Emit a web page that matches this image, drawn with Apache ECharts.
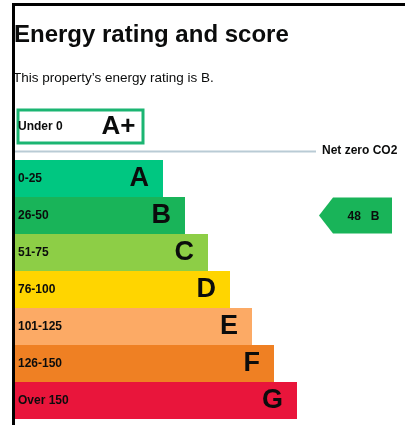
<!DOCTYPE html>
<html>
<head>
<meta charset="utf-8">
<script src="https://cdn.jsdelivr.net/npm/echarts@6/dist/echarts.min.js"></script>
<style>
html,body{margin:0;padding:0;background:#fff;}
#chart{width:405px;height:425px;}
</style>
</head>
<body>
<div id="chart"></div>
<script>
// ---- data ----
var topRating = ['A+'];
var topRange = ['Under 0'];
var topBar = [128];
var ratings = ['A', 'B', 'C', 'D', 'E', 'F', 'G'];
var ranges = ['0-25', '26-50', '51-75', '76-100', '101-125', '126-150', 'Over 150'];
var barLengths = [148, 170, 193, 215, 237, 259, 282];
var barColors = ['#00c781', '#19b459', '#8dce46', '#ffd500', '#fcaa65', '#ef8023', '#e9153b'];
var currentScore = 48;
var currentRating = 'B';

var FONT = '"Liberation Sans", Arial, sans-serif';
var INK = '#0b0c0c';
var pointerX = 340.5;

var chart = echarts.init(document.getElementById('chart'), null, {renderer: 'canvas'});

var option = {
  backgroundColor: '#ffffff',
  animation: false,
  title: [
    {text: 'Energy rating and score', left: 14, top: 23, padding: 0,
     textStyle: {fontFamily: FONT, fontSize: 24, fontWeight: 'bold', color: INK}},
    {text: 'This property\u2019s energy rating is B.', left: 13, top: 71, padding: 0,
     textStyle: {fontFamily: FONT, fontSize: 13.5, fontWeight: 'normal', color: INK}}
  ],
  grid: [
    {left: 16.5, top: 108.5, width: 388.5, height: 36},
    {left: 15, top: 160, width: 390, height: 259}
  ],
  xAxis: [
    {gridIndex: 0, type: 'value', min: 0, max: 388.5, show: false},
    {gridIndex: 1, type: 'value', min: 0, max: 390, show: false}
  ],
  yAxis: [
    {gridIndex: 0, type: 'category', data: topRating, inverse: true, z: 10,
     axisLine: {show: false}, axisTick: {show: false}, splitLine: {show: false},
     axisLabel: {inside: true, margin: 1.5, fontFamily: FONT, fontSize: 12, fontWeight: 'bold', color: INK,
       formatter: function (v, i) { return topRange[i]; }}},
    {gridIndex: 1, type: 'category', data: ratings, inverse: true, z: 10,
     axisLine: {show: false}, axisTick: {show: false}, splitLine: {show: false},
     axisLabel: {inside: true, margin: 3, fontFamily: FONT, fontSize: 12, fontWeight: 'bold', color: INK,
       formatter: function (v, i) { return ranges[i]; }}}
  ],
  series: [
    {type: 'bar', xAxisIndex: 0, yAxisIndex: 0, barWidth: '100%',
     data: topBar.map(function (v) { return v; }),
     itemStyle: {color: '#ffffff', borderColor: '#1bb572', borderWidth: 3},
     label: {show: true, position: 'insideRight', distance: 9, fontFamily: FONT, fontSize: 26, fontWeight: 'bold', color: INK,
       formatter: function (p) { return topRating[p.dataIndex]; }}},
    {type: 'bar', xAxisIndex: 1, yAxisIndex: 1, barWidth: '100%',
     data: barLengths.map(function (v, i) { return {value: v, itemStyle: {color: barColors[i]}}; }),
     label: {show: true, position: 'insideRight', distance: 14, fontFamily: FONT, fontSize: 27, fontWeight: 'bold', color: INK,
       formatter: function (p) { return ratings[p.dataIndex]; }}},
    {type: 'scatter', xAxisIndex: 1, yAxisIndex: 1, z: 5,
     symbol: 'path://M0,18 L14,0 L73,0 L73,36 L14,36 Z', symbolSize: [73, 36],
     itemStyle: {color: barColors[ratings.indexOf(currentRating)], opacity: 1},
     data: [[pointerX, currentRating]],
     label: {show: true, position: 'inside', offset: [8, 1],
       formatter: function () { return '{s|' + currentScore + '}{r|' + currentRating + '}'; },
       rich: {
         s: {fontFamily: FONT, fontSize: 12, fontWeight: 'bold', color: INK, padding: [0, 10, 0, 0]},
         r: {fontFamily: FONT, fontSize: 12, fontWeight: 'bold', color: INK}
       }}}
  ],
  graphic: [
    {type: 'rect', shape: {x: 12, y: 3, width: 393, height: 3}, style: {fill: '#000'}, z: 100},
    {type: 'rect', shape: {x: 12, y: 3, width: 3, height: 422}, style: {fill: '#000'}, z: 100},
    {type: 'line', shape: {x1: 15, y1: 151.5, x2: 316, y2: 151.5}, style: {stroke: '#b9cbd5', lineWidth: 2}, z: 50},
    {type: 'text', left: 322, top: 145, style: {text: 'Net zero CO2', font: 'bold 12px ' + FONT, fill: INK}, z: 50}
  ]
};
chart.setOption(option);
</script>
</body>
</html>
